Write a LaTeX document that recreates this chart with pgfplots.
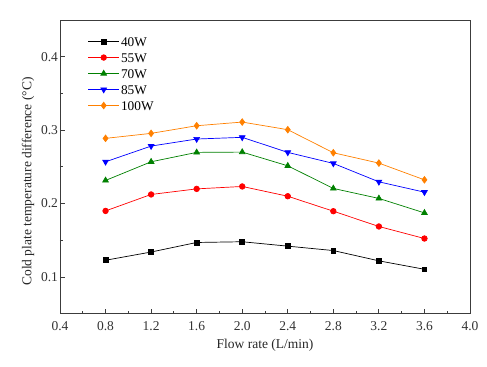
\documentclass[border=0pt]{standalone}
\usepackage{fontspec}
\setmainfont{Liberation Serif}
\usepackage{pgfplots}
\pgfplotsset{compat=1.18}
\definecolor{c40}{RGB}{0,0,0}
\definecolor{c55}{RGB}{255,0,0}
\definecolor{c70}{RGB}{0,128,0}
\definecolor{c85}{RGB}{0,0,255}
\definecolor{c100}{RGB}{255,128,0}
\definecolor{axgray}{RGB}{60,60,60}
\begin{document}
\begin{tikzpicture}[x=1pt,y=1pt]
\begin{axis}[
  at={(0,0)}, anchor=south west,
  scale only axis, width=410pt, height=293.7pt,
  xmin=0.4, xmax=4.0, ymin=0.05, ymax=0.45,
  xtick={0.4,0.8,...,4.01},
  minor xtick={0.6,1.0,...,3.81},
  ytick={0.1,0.2,0.3,0.4},
  minor ytick={0.15,0.25,0.35},
  xtick pos=left, ytick pos=left,
  tick align=inside,
  major tick length=5pt, minor tick length=3pt,
  axis line style={axgray, line width=0.9pt},
  every tick/.style={axgray, line width=0.8pt},
  /pgf/number format/assume math mode=true,
  /pgf/number format/fixed,
  /pgf/number format/fixed zerofill,
  /pgf/number format/precision=1,
  ticklabel style={font=\fontsize{13.5}{15}\selectfont, text=black!80},
  xticklabel style={yshift=-4pt},
  yticklabel style={xshift=1.5pt},
  xlabel={Flow rate (L/min)},
  ylabel={Cold plate temperature difference (°C)},
  label style={font=\fontsize{13.5}{15}\selectfont, text=black!85},
  xlabel style={yshift=-2pt},
  ylabel style={at={(ticklabel cs:0.45)}},
  legend style={draw=none, fill=none, at={(0.065,0.952)}, anchor=north west,
    font=\fontsize{13.3}{15}\selectfont, row sep=3.5pt, inner sep=1pt,
    nodes={inner sep=1.5pt, text height=9.5pt, text depth=0pt}},
  legend cell align=left,
  legend image code/.code={\draw[mark repeat=2,mark phase=2] plot coordinates {(0pt,0pt) (15.5pt,0pt) (31pt,0pt)};},
  every axis plot/.append style={line width=0.7pt},
]
\addplot[c40, mark=square*, mark size=2.4pt] coordinates {
(0.8,0.1228) (1.2,0.134) (1.6,0.147) (2.0,0.148) (2.4,0.142) (2.8,0.136) (3.2,0.122) (3.6,0.1105)};
\addlegendentry{40W}
\addplot[c55, mark=*, mark size=2.8pt] coordinates {
(0.8,0.190) (1.2,0.2124) (1.6,0.220) (2.0,0.2233) (2.4,0.210) (2.8,0.1896) (3.2,0.1688) (3.6,0.1524)};
\addlegendentry{55W}
\addplot[c70, mark=triangle*, mark size=3.3pt] coordinates {
(0.8,0.2315) (1.2,0.2569) (1.6,0.2697) (2.0,0.2701) (2.4,0.2514) (2.8,0.2206) (3.2,0.207) (3.6,0.1873)};
\addlegendentry{70W}
\addplot[c85, mark=triangle*, mark options={rotate=180}, mark size=3.3pt] coordinates {
(0.8,0.2569) (1.2,0.2783) (1.6,0.2879) (2.0,0.2902) (2.4,0.2697) (2.8,0.2547) (3.2,0.2296) (3.6,0.2155)};
\addlegendentry{85W}
\addplot[c100, mark=diamond*, mark size=3.3pt] coordinates {
(0.8,0.2888) (1.2,0.2956) (1.6,0.306) (2.0,0.311) (2.4,0.3006) (2.8,0.2692) (3.2,0.2551) (3.6,0.2323)};
\addlegendentry{100W}
\end{axis}
\useasboundingbox (-60,-53) rectangle (427,313.7);
\end{tikzpicture}
\end{document}
